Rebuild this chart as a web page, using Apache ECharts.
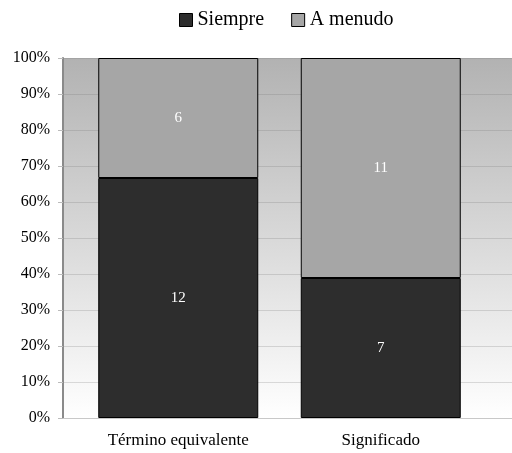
<!DOCTYPE html>
<html><head><meta charset="utf-8">
<script src="https://cdn.jsdelivr.net/npm/echarts@6/dist/echarts.min.js"></script>
<style>html,body{margin:0;padding:0;background:#fff}#c{width:512px;height:453px}</style>
</head><body><div id="c"></div>
<script>
const categories = ['Término equivalente', 'Significado'];
const siempre = [12, 7];
const aMenudo = [6, 11];
const yTicks = [0, 10, 20, 30, 40, 50, 60, 70, 80, 90, 100];

const totals = categories.map((_, i) => siempre[i] + aMenudo[i]);
const pct = (arr) => arr.map((v, i) => ({ value: v / totals[i] * 100, raw: v }));
const font = '"Liberation Serif", "DejaVu Serif", serif';

const chart = echarts.init(document.getElementById('c'));
chart.setOption({
  animation: false,
  textStyle: { fontFamily: font },
  legend: {
    top: 5, left: 174,
    icon: 'rect',
    itemWidth: 13, itemHeight: 13, itemGap: 27,
    textStyle: { fontFamily: font, fontSize: 20, color: '#000' },
    data: [
      { name: 'Siempre', itemStyle: { color: '#2d2d2d', borderColor: '#000', borderWidth: 1 } },
      { name: 'A menudo', itemStyle: { color: '#a6a6a6', borderColor: '#000', borderWidth: 1 } }
    ]
  },
  grid: [
    { left: 63, right: 0, top: 58, bottom: 35, show: true, borderWidth: 0,
      backgroundColor: new echarts.graphic.LinearGradient(0, 0, 0, 1, [
        { offset: 0, color: '#b2b2b2' }, { offset: 1, color: '#ffffff' }
      ]) },
    { left: 77, right: 30, top: 58, bottom: 35 }
  ],
  xAxis: [
    { type: 'category', gridIndex: 0, data: [''], axisLabel: { show: false },
      axisTick: { show: false }, axisLine: { show: true, lineStyle: { color: '#c8c8c8', width: 1 } } },
    { type: 'category', gridIndex: 1, data: categories,
      axisTick: { show: false }, axisLine: { show: false },
      axisLabel: { fontFamily: font, fontSize: 17, color: '#000', margin: 14 } }
  ],
  yAxis: [
    { type: 'value', gridIndex: 0, min: 0, max: 100, interval: 10,
      axisLine: { show: true, lineStyle: { color: '#8a8a8a', width: 2 } },
      axisTick: { show: true, length: 5, lineStyle: { color: '#bbb' } },
      splitLine: { show: true, lineStyle: { color: 'rgba(120,120,120,0.25)', width: 1 } },
      axisLabel: { fontFamily: font, fontSize: 16, color: '#000', margin: 13,
        formatter: v => yTicks.includes(v) ? v + '%' : '' } },
    { type: 'value', gridIndex: 1, min: 0, max: 100, interval: 10, show: false }
  ],
  series: [
    { name: 'Siempre', type: 'bar', stack: 's', xAxisIndex: 1, yAxisIndex: 1,
      barWidth: 160, data: pct(siempre),
      itemStyle: { color: '#2d2d2d', borderColor: '#000', borderWidth: 1 },
      label: { show: true, position: 'inside', color: '#fff', fontFamily: font, fontSize: 15,
        formatter: p => p.data.raw } },
    { name: 'A menudo', type: 'bar', stack: 's', xAxisIndex: 1, yAxisIndex: 1,
      barWidth: 160, data: pct(aMenudo),
      itemStyle: { color: '#a6a6a6', borderColor: '#000', borderWidth: 1 },
      label: { show: true, position: 'inside', color: '#fff', fontFamily: font, fontSize: 15,
        formatter: p => p.data.raw } }
  ]
});
</script></body></html>
